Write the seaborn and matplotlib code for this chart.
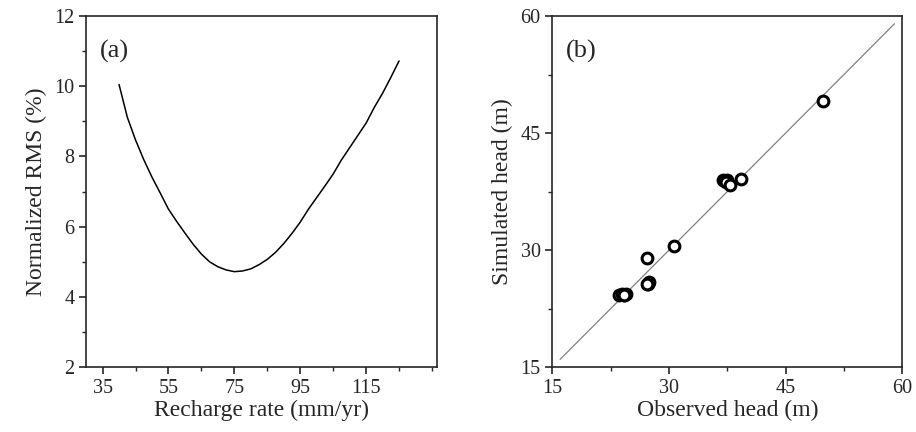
import numpy as np
import pandas as pd
import seaborn as sns
import matplotlib.pyplot as plt
from matplotlib.ticker import MultipleLocator

# panel (a): normalized RMS vs recharge rate (every 2.5 mm/yr)
recharge = [40, 42.5, 45, 47.5, 50, 52.5, 55, 57.5, 60, 62.5, 65, 67.5, 70, 72.5,
            75, 77.5, 80, 82.5, 85, 87.5, 90, 92.5, 95, 97.5, 100, 102.5, 105,
            107.5, 110, 112.5, 115, 117.5, 120, 122.5, 125]
rms = [10.05, 9.12, 8.47, 7.91, 7.41, 6.96, 6.5, 6.15, 5.82, 5.5, 5.22, 5.0,
       4.86, 4.77, 4.72, 4.74, 4.8, 4.92, 5.07, 5.27, 5.52, 5.81, 6.13, 6.5,
       6.83, 7.16, 7.5, 7.9, 8.25, 8.6, 8.95, 9.4, 9.8, 10.25, 10.72]

# panel (b): observed vs simulated head
observed = [23.6, 23.9, 24.2, 24.5, 24.2, 27.2, 27.3, 27.4, 27.2, 30.6,
            36.9, 37.2, 37.5, 37.3, 37.8, 39.3, 49.8]
simulated = [24.3, 24.4, 24.3, 24.4, 24.2, 29.0, 25.7, 25.9, 25.6, 30.5,
             39.0, 38.9, 39.0, 38.7, 38.4, 39.1, 49.1]
one_to_one = [16, 59]

sns.set_style("ticks")
plt.rcParams['font.family'] = ['Liberation Serif', 'DejaVu Serif']
plt.rcParams['axes.linewidth'] = 1.2
plt.rcParams['xtick.major.width'] = 1.2
plt.rcParams['ytick.major.width'] = 1.2
plt.rcParams['xtick.minor.width'] = 1.0
plt.rcParams['ytick.minor.width'] = 1.0

fig = plt.figure(figsize=(9.16, 4.32), dpi=100)
ax1 = fig.add_axes([0.094, 0.150, 0.383, 0.813])
ax2 = fig.add_axes([0.603, 0.150, 0.382, 0.813])

df_a = pd.DataFrame({'x': recharge, 'y': rms})
sns.lineplot(data=df_a, x='x', y='y', ax=ax1, color='black', linewidth=1.1)
ax1.set_xlim(30, 136.5)
ax1.set_ylim(2, 12)
ax1.set_xticks([35, 55, 75, 95, 115])
ax1.set_yticks([2, 4, 6, 8, 10, 12])
ax1.xaxis.set_minor_locator(MultipleLocator(10, offset=5))
ax1.yaxis.set_minor_locator(MultipleLocator(1))
ax1.set_xlabel('Recharge rate (mm/yr)', fontsize=17, labelpad=1)
ax1.set_ylabel('Normalized RMS (%)', fontsize=17, labelpad=5)
ax1.text(0.04, 0.90, '(a)', transform=ax1.transAxes, fontsize=19, va='center')

df_b = pd.DataFrame({'obs': observed, 'sim': simulated})
ax2.plot(one_to_one, one_to_one, color='gray', linewidth=0.9)
sns.scatterplot(data=df_b, x='obs', y='sim', ax=ax2, marker='o', s=60,
                facecolor='white', edgecolor='black', linewidth=2.2, zorder=3)
ax2.set_xlim(15, 60)
ax2.set_ylim(15, 60)
ax2.set_xticks([15, 30, 45, 60])
ax2.set_yticks([15, 30, 45, 60])
ax2.xaxis.set_minor_locator(MultipleLocator(7.5))
ax2.yaxis.set_minor_locator(MultipleLocator(7.5))
ax2.set_xlabel('Observed head (m)', fontsize=17, labelpad=1)
ax2.set_ylabel('Simulated head (m)', fontsize=17, labelpad=5)
ax2.text(0.04, 0.90, '(b)', transform=ax2.transAxes, fontsize=19, va='center')

for ax in (ax1, ax2):
    for s in ax.spines.values():
        s.set_visible(True)
    ax.tick_params(which='major', direction='out', length=5, labelsize=14.5,
                   top=False, right=False)
    ax.tick_params(which='minor', direction='out', length=3, top=False, right=False)

fig.savefig('out.png', dpi=100)
